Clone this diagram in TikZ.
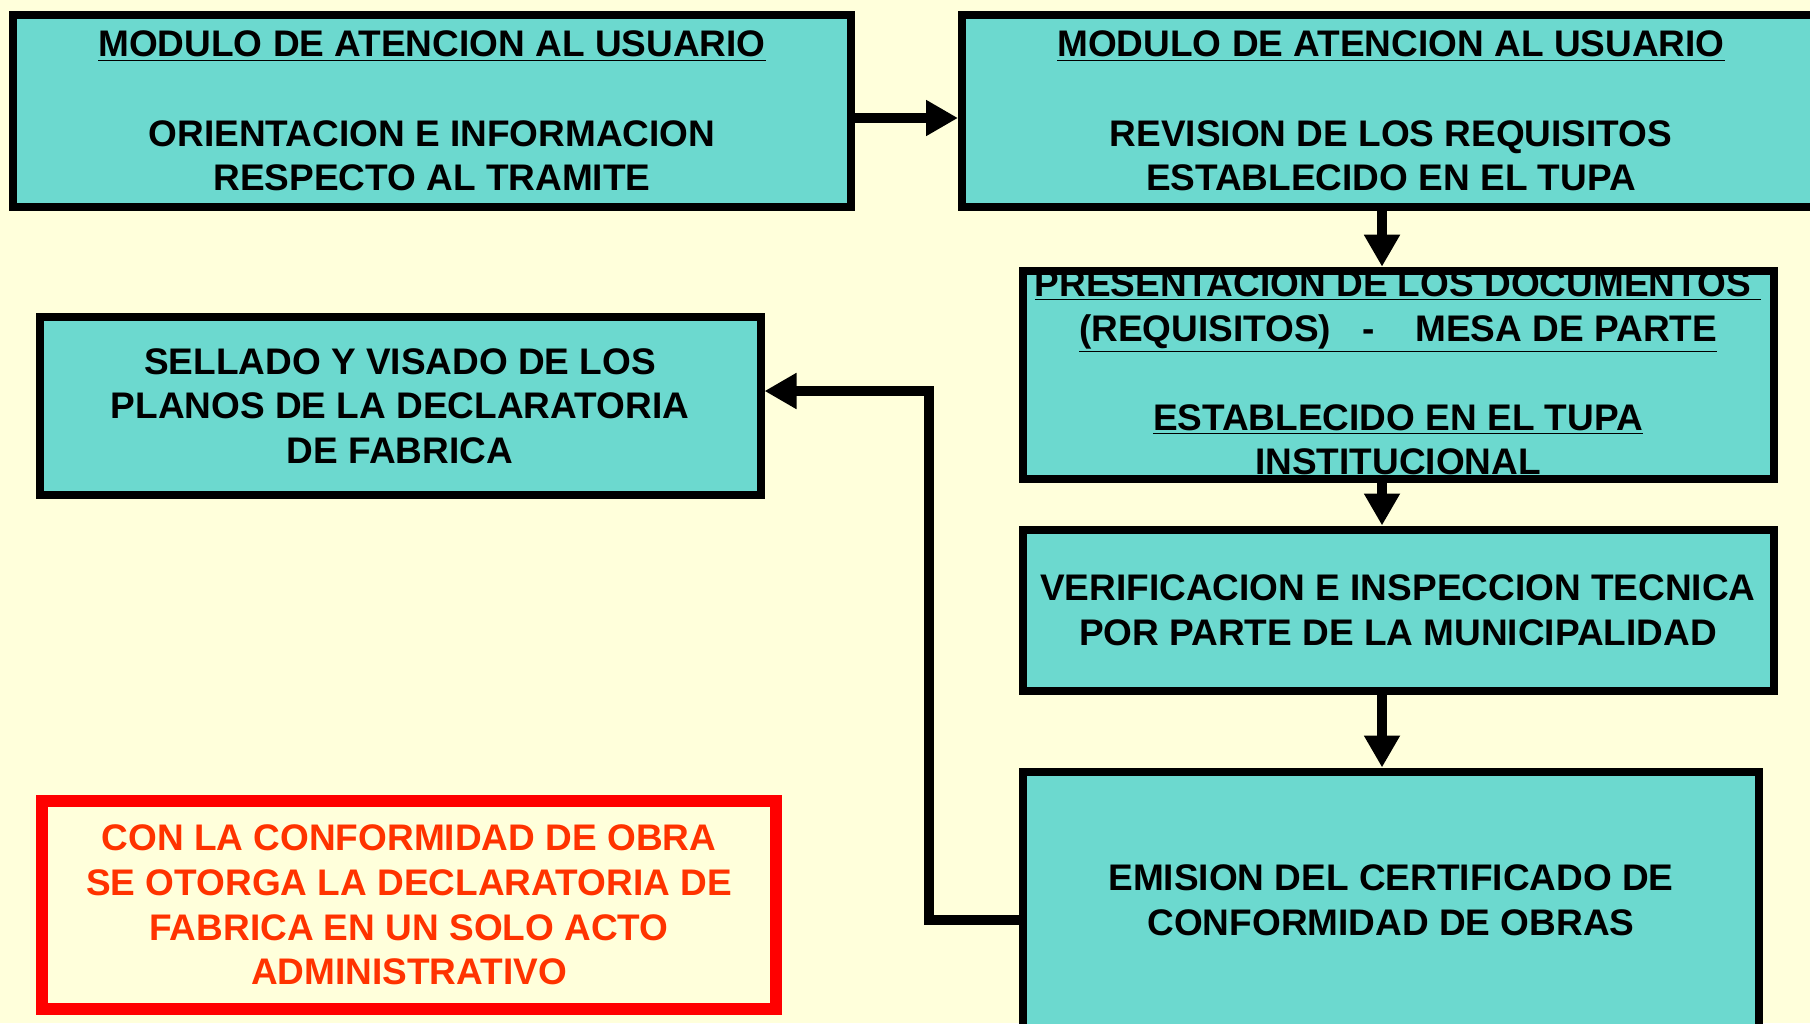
\documentclass[tikz,border=0pt]{standalone}
\usepackage{fontspec}
\setmainfont{Liberation Sans}
\usetikzlibrary{arrows.meta}

\definecolor{fondo}{RGB}{255,255,219}
\definecolor{turquesa}{RGB}{108,217,207}
\definecolor{rojotexto}{RGB}{255,51,0}

\tikzset{
    caja/.style={draw=black, line width=4pt, fill=turquesa, align=center, inner sep=0pt,
        font=\bfseries\fontsize{18.5}{22.3}\selectfont},
    nota/.style={draw=red, line width=6pt, fill=fondo, text=rojotexto, align=center, inner sep=0pt,
        font=\bfseries\fontsize{18.5}{22.3}\selectfont},
    flecha/.style={line width=5.2pt, -{Triangle[length=16pt,width=17pt]}}
}

\begin{document}
\begin{tikzpicture}[x=0.5pt,y=-0.5pt]
            \path[use as bounding box, fill=fondo] (0,0) rectangle (1810,1023);

            \node[caja, minimum width=419pt, minimum height=96pt] (orientacion) at (432,111)
                {\underline{MODULO DE ATENCION AL USUARIO}\\[22.3pt] ORIENTACION E INFORMACION\\ RESPECTO AL TRAMITE};
            \node[caja, minimum width=429pt, minimum height=96pt] (revision) at (1391,111)
                {\underline{MODULO DE ATENCION AL USUARIO}\\[22.3pt] REVISION DE LOS REQUISITOS\\ ESTABLECIDO EN EL TUPA};
            \node[caja, minimum width=375.5pt, minimum height=103.5pt] (presentacion) at (1398,375)
                {\underline{PRESENTACION DE LOS DOCUMENTOS\ }\\ \underline{(REQUISITOS)\ \ \ -\ \ \ \ MESA DE PARTE}\\[22.3pt]
                 \underline{ESTABLECIDO EN EL TUPA}\\ \underline{INSTITUCIONAL}};
            \node[caja, minimum width=375.5pt, minimum height=80.5pt] (verificacion) at (1398,610)
                {VERIFICACION E INSPECCION TECNICA\\ POR PARTE DE LA MUNICIPALIDAD};
            \node[caja, minimum width=368pt, minimum height=128.5pt] (emision) at (1391,900)
                {EMISION DEL CERTIFICADO DE\\ CONFORMIDAD DE OBRAS};
            \node[caja, minimum width=360.5pt, minimum height=89pt] (sellado) at (400,406)
                {SELLADO Y VISADO DE LOS\\ PLANOS DE LA DECLARATORIA\\ DE FABRICA};
            \node[nota, minimum width=367pt, minimum height=104pt] (conformidad) at (409,905)
                {CON LA CONFORMIDAD DE OBRA\\ SE OTORGA LA DECLARATORIA DE\\ FABRICA EN UN SOLO ACTO\\ ADMINISTRATIVO};

            % flechas
            \coordinate (eje) at (1382,0);
            \coordinate (giro) at (929,391);
            \draw[flecha] ([yshift=-3.5pt]orientacion.east) -- ([yshift=-3.5pt]orientacion.east -| revision.west);
            \draw[flecha] (revision.south -| eje) -- (presentacion.north -| eje);
            \draw[flecha] (presentacion.south -| eje) -- (verificacion.north -| eje);
            \draw[flecha] (verificacion.south -| eje) -- (emision.north -| eje);
            \draw[flecha] ([yshift=-10pt]emision.west) -| (giro) -- (giro -| sellado.east);
\end{tikzpicture}
\end{document}
